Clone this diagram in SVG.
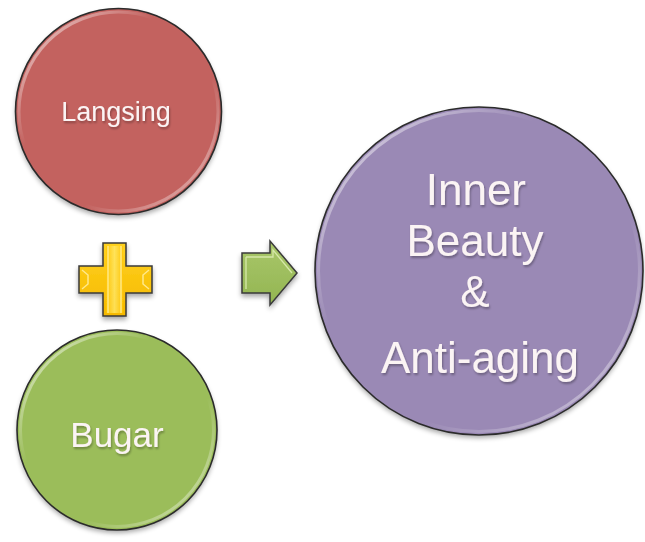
<svg xmlns="http://www.w3.org/2000/svg" width="645" height="542" viewBox="0 0 645 542">
  <style>
    .lbl { font-family: "Liberation Sans", Arial, sans-serif; fill: #FBF4F4; text-anchor: middle; }
    .edge { fill: none; stroke: #2b2b2b; stroke-width: 1.6; }
    .shine { fill: none; stroke: url(#shine); stroke-width: 3; }
  </style>
  <defs>
    <linearGradient id="shine" x1="0" y1="0" x2="1" y2="1">
      <stop offset="0" stop-color="#ffffff" stop-opacity="0.75"/>
      <stop offset="0.35" stop-color="#ffffff" stop-opacity="0"/>
      <stop offset="0.65" stop-color="#ffffff" stop-opacity="0"/>
      <stop offset="1" stop-color="#ffffff" stop-opacity="0.6"/>
    </linearGradient>
    <linearGradient id="gold" x1="0" y1="0" x2="0" y2="1">
      <stop offset="0" stop-color="#FFD21F"/>
      <stop offset="1" stop-color="#F5B800"/>
    </linearGradient>
    <linearGradient id="goldV" x1="0" y1="0" x2="1" y2="0">
      <stop offset="0" stop-color="#FFC400"/>
      <stop offset="0.5" stop-color="#FFE86A"/>
      <stop offset="1" stop-color="#FFC400"/>
    </linearGradient>
    <linearGradient id="arrowFill" x1="0" y1="0" x2="0" y2="1">
      <stop offset="0" stop-color="#A9C76A"/>
      <stop offset="1" stop-color="#93B552"/>
    </linearGradient>
    <filter id="shadow" x="-20%" y="-20%" width="140%" height="150%">
      <feGaussianBlur in="SourceAlpha" stdDeviation="2.5"/>
      <feOffset dx="0" dy="3" result="b"/>
      <feComponentTransfer><feFuncA type="linear" slope="0.35"/></feComponentTransfer>
      <feMerge><feMergeNode/><feMergeNode in="SourceGraphic"/></feMerge>
    </filter>
    <filter id="tshadow" x="-10%" y="-20%" width="120%" height="150%">
      <feGaussianBlur in="SourceAlpha" stdDeviation="0.8"/>
      <feOffset dx="1" dy="1.5"/>
      <feComponentTransfer><feFuncA type="linear" slope="0.3"/></feComponentTransfer>
      <feMerge><feMergeNode/><feMergeNode in="SourceGraphic"/></feMerge>
    </filter>
  </defs>
  <rect width="645" height="542" fill="#ffffff"/>

  <g id="node-langsing">
    <circle cx="118.5" cy="111.5" r="103" fill="#C3625F" filter="url(#shadow)"/>
    <circle cx="118.5" cy="111.5" r="99.5" class="shine"/>
    <circle cx="118.5" cy="111.5" r="103" class="edge"/>
    <text x="116" y="121" font-size="27" class="lbl" filter="url(#tshadow)">Langsing</text>
  </g>

  <g id="node-bugar">
    <circle cx="117" cy="430" r="100" fill="#9BBD5A" filter="url(#shadow)"/>
    <circle cx="117" cy="430" r="96.5" class="shine"/>
    <circle cx="117" cy="430" r="100" class="edge"/>
    <text x="117" y="447" font-size="35" class="lbl" filter="url(#tshadow)">Bugar</text>
  </g>

  <g id="node-result">
    <circle cx="479" cy="271" r="164" fill="#9A89B5" filter="url(#shadow)"/>
    <circle cx="479" cy="271" r="160.5" class="shine"/>
    <circle cx="479" cy="271" r="164" class="edge"/>
    <text font-size="44" class="lbl" filter="url(#tshadow)">
      <tspan x="482" y="205">Inner</tspan>
      <tspan x="481" y="256">Beauty</tspan>
      <tspan x="481" y="307">&amp;</tspan>
      <tspan x="480" y="373">Anti-aging</tspan>
    </text>
  </g>

  <g id="connectors">
    <g id="plus" filter="url(#shadow)">
      <path d="M103,243 H126 V266 H152 V293 H126 V316 H103 V293 H79 V266 H103 Z" fill="url(#gold)" stroke="#3a3a3a" stroke-width="1.5" stroke-linejoin="miter"/>
      <rect x="106" y="246" width="17" height="67" fill="url(#goldV)" opacity="0.8"/>
      <path d="M82,270 L88,275 L88,284 L82,289" fill="none" stroke="#FFE98A" stroke-width="1.5"/>
      <path d="M149,270 L143,275 L143,284 L149,289" fill="none" stroke="#FFE98A" stroke-width="1.5"/>
      <path d="M108,246 V313 M121,246 V313" fill="none" stroke="#FFF0A0" stroke-width="1.2"/>
    </g>
    <g id="arrow" filter="url(#shadow)">
      <path d="M242,253 H270 V241 L297,273 L270,305 V293 H242 Z" fill="url(#arrowFill)" stroke="#3a3a3a" stroke-width="1.5" stroke-linejoin="miter"/>
      <path d="M246,257 H273 V250 L292,273 M246,257 V289" fill="none" stroke="#D6E8A8" stroke-width="1.3"/>
    </g>
  </g>
</svg>
